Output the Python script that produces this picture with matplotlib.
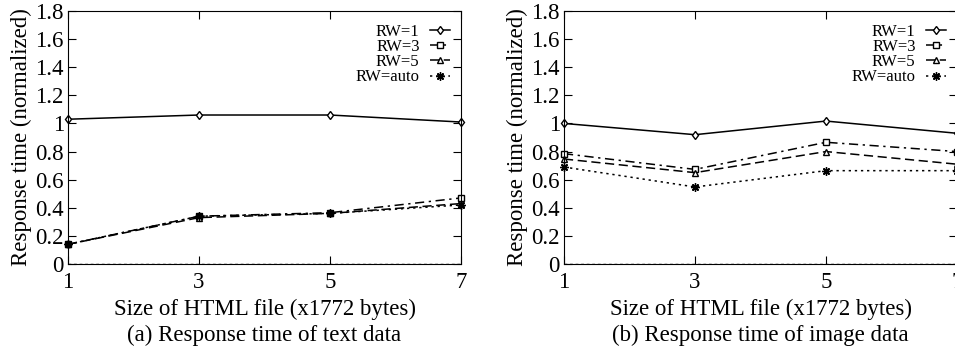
import numpy as np
import matplotlib
matplotlib.use('Agg')
import matplotlib.pyplot as plt

plt.rcParams['font.family'] = ['Liberation Serif', 'DejaVu Serif']

sizes = [1, 3, 5, 7]
labels = ['RW=1', 'RW=3', 'RW=5', 'RW=auto']

# (a) text data
text_rw1 = [1.03, 1.06, 1.06, 1.01]
text_rw3 = [0.14, 0.34, 0.365, 0.47]
text_rw5 = [0.14, 0.33, 0.36, 0.43]
text_auto = [0.14, 0.34, 0.36, 0.42]

# (b) image data
img_rw1 = [1.0, 0.92, 1.017, 0.93]
img_rw3 = [0.785, 0.673, 0.866, 0.80]
img_rw5 = [0.747, 0.65, 0.80, 0.71]
img_auto = [0.69, 0.548, 0.664, 0.664]

styles = [
    dict(ls='-', marker='d', ms=4.5, mfc='white'),
    dict(ls=(0, (6, 3, 1.5, 3)), marker='s', ms=5, mfc='white'),
    dict(ls=(0, (6, 3)), marker='^', ms=5, mfc='white'),
    dict(ls=(0, (1.5, 2.5)), marker=(8, 2, 0), ms=6),
]

fig = plt.figure(figsize=(9.55, 3.49), dpi=100)
ax1 = fig.add_axes([68/955, 85/349, 393/955, 253/349])
ax2 = fig.add_axes([564/955, 85/349, 393/955, 253/349])


def draw(ax, series, title):
    for vals, lab, st in zip(series, labels, styles):
        ax.plot(sizes, vals, color='black', lw=1.1, mec='black', mew=1.0,
                label=lab, clip_on=False, **st)
    ax.axhline(0, color='black', lw=1.0, ls=(0, (2, 2)))
    ax.set_xlim(1, 7)
    ax.set_ylim(0, 1.8)
    ax.set_xticks(sizes)
    yt = np.arange(0, 1.81, 0.2)
    ax.set_yticks(yt)
    ax.set_yticklabels(['%g' % round(v, 1) for v in yt])
    ax.tick_params(direction='in', top=True, right=True, length=6,
                   labelsize=16.5)
    ax.tick_params(axis='x', pad=6)
    ax.tick_params(axis='y', pad=3)
    ax.set_ylabel('Response time (normalized)', fontsize=16.5, labelpad=2)
    ax.set_xlabel('Size of HTML file (x1772 bytes)\n' + title, fontsize=16.5,
                  labelpad=4, linespacing=1.3)
    leg = ax.legend(loc='upper right', bbox_to_anchor=(0.99, 0.975),
                    frameon=False, markerfirst=False, fontsize=12,
                    handlelength=1.25, handletextpad=0.6, labelspacing=-0.05,
                    numpoints=1, borderaxespad=0)
    for t in leg.get_texts():
        t.set_ha('right')


draw(ax1, [text_rw1, text_rw3, text_rw5, text_auto],
     '(a) Response time of text data')
draw(ax2, [img_rw1, img_rw3, img_rw5, img_auto],
     '(b) Response time of image data')

fig.savefig('out.png', dpi=100)
